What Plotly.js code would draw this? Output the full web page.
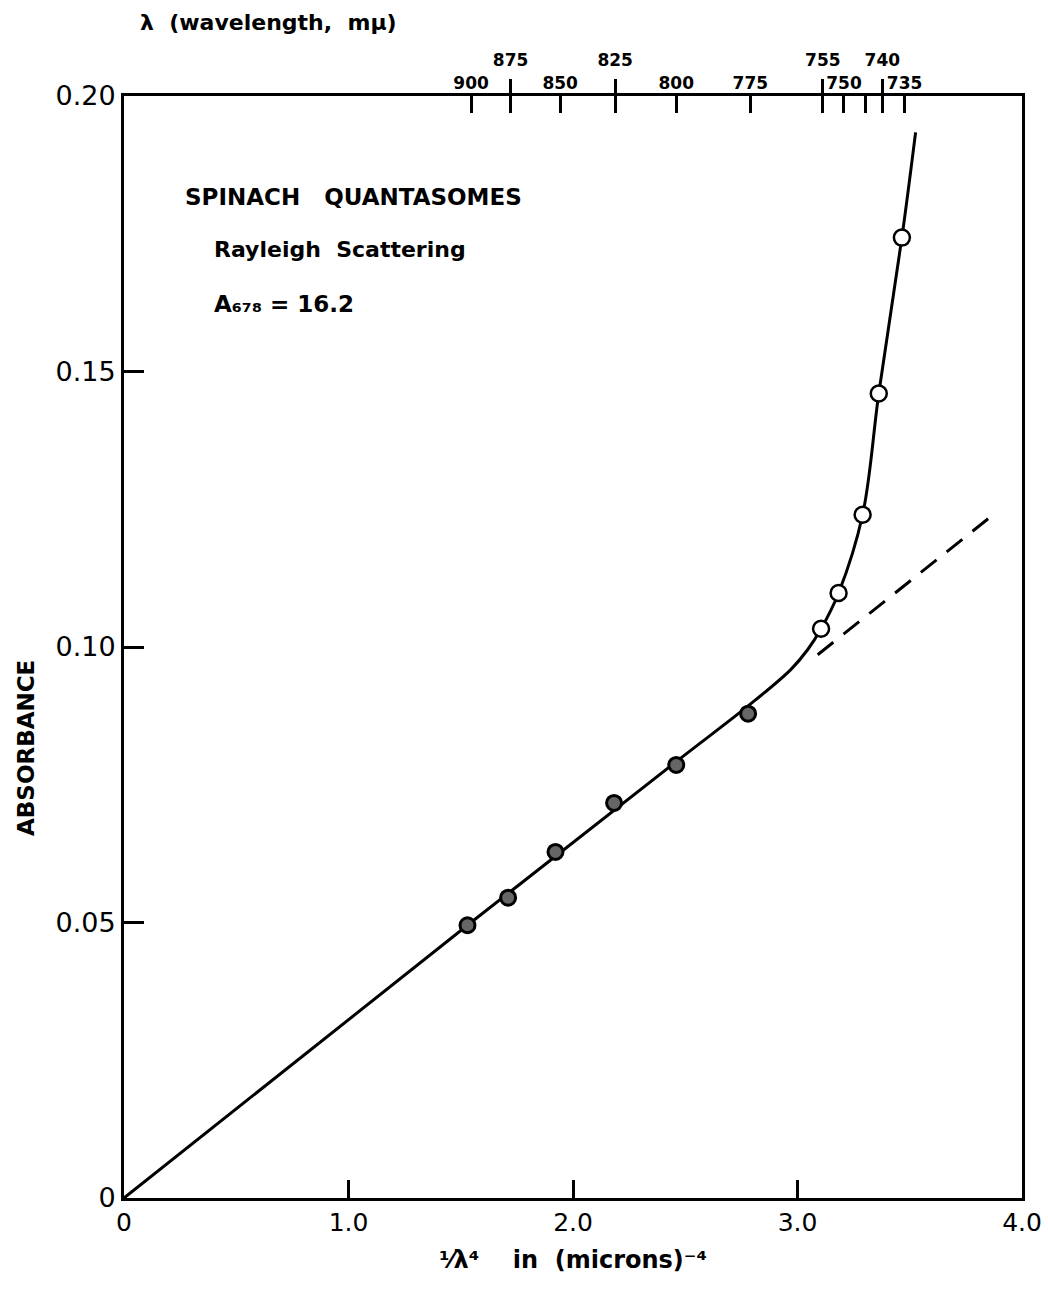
<!DOCTYPE html>
<html><head><meta charset="utf-8">
<script src="https://cdn.plot.ly/plotly-3.0.1.min.js"></script>
<style>html,body{margin:0;padding:0;background:#fff}</style>
</head><body><div id="chart" style="width:1048px;height:1309px"></div>
<script>
// measured points (1/lambda^4 in microns^-4, absorbance)
const filledX = [1.530, 1.711, 1.922, 2.183, 2.460, 2.780];
const filledY = [0.0495, 0.0545, 0.0628, 0.0717, 0.0786, 0.0879];
const openX = [3.105, 3.183, 3.290, 3.362, 3.465];
const openY = [0.1033, 0.1098, 0.1240, 0.1460, 0.1743];
// drawn smooth curve
const curveX = [0, 1.53, 2.46, 2.78, 2.97, 3.045, 3.105, 3.183, 3.290, 3.362, 3.465, 3.526];
const curveY = [0, 0.0495, 0.0792, 0.0893, 0.0959, 0.0995, 0.1033, 0.1098, 0.1240, 0.1460, 0.1743, 0.1934];
// dashed extrapolation of linear part
const dashX = [3.09, 3.856];
const dashY = [0.0986, 0.1235];
// axes
const xTickVals = [0, 1, 2, 3, 4];
const xTickText = ['0', '1.0', '2.0', '3.0', '4.0'];
const yTickVals = [0, 0.05, 0.10, 0.15, 0.20];
const yTickText = ['0', '0.05', '0.10', '0.15', '0.20'];
// top wavelength scale (m\u03bc), positions on 1/lambda^4 axis
const lowerWlPos = [1.546, 1.943, 2.460, 2.790, 3.207, 3.477];
const lowerWlText = ['900', '850', '800', '775', '750', '735'];
const upperWlPos = [1.722, 2.188, 3.113, 3.378];
const upperWlText = ['875', '825', '755', '740'];
const extraWlPos = [3.302]; // unlabelled 745 tick

const FONT = 'DejaVu Sans, Liberation Sans, sans-serif';

const traces = [
  {x: curveX, y: curveY, mode: 'lines', line: {color: '#000', width: 3, shape: 'spline', smoothing: 1}, hoverinfo: 'skip'},
  {x: dashX, y: dashY, mode: 'lines', line: {color: '#000', width: 3, dash: '20px,13px'}, hoverinfo: 'skip'},
  {x: filledX, y: filledY, mode: 'markers', marker: {size: 15, color: '#666', line: {color: '#000', width: 3}}},
  {x: openX, y: openY, mode: 'markers', marker: {size: 16, color: '#fff', line: {color: '#000', width: 2.5}}},
  {x: [], y: [], xaxis: 'x2', yaxis: 'y', mode: 'markers'},
  {x: [], y: [], xaxis: 'x3', yaxis: 'y', mode: 'markers'},
  {x: [], y: [], xaxis: 'x4', yaxis: 'y', mode: 'markers'}
];

const topTickFont = {size: 17, family: FONT, weight: 'bold'};

const layout = {
  width: 1048, height: 1309,
  paper_bgcolor: '#fff', plot_bgcolor: '#fff',
  margin: {l: 124, r: 26, t: 96, b: 111},
  showlegend: false,
  font: {family: FONT, color: '#000'},
  title: {text: '\u03bb  (wavelength,  m\u03bc)', x: 140/1048, xanchor: 'left', y: 1 - 22/1309, yanchor: 'middle',
          font: {size: 22, family: FONT, color: '#000', weight: 'bold'}},
  xaxis: {
    range: [0, 4], tickvals: xTickVals, ticktext: xTickText,
    ticks: 'inside', ticklen: 18, tickwidth: 3, tickcolor: '#000',
    showline: true, linewidth: 3, linecolor: '#000', mirror: true,
    showgrid: false, zeroline: false,
    tickfont: {size: 25, family: FONT},
    title: {text: '\u00b9\u2044\u03bb\u2074    in  (microns)\u207b\u2074',
            font: {size: 24, family: FONT, weight: 'bold'}, standoff: 16}
  },
  yaxis: {
    range: [0, 0.2], tickvals: yTickVals, ticktext: yTickText,
    ticks: 'inside', ticklen: 20, tickwidth: 3, tickcolor: '#000',
    showline: true, linewidth: 3, linecolor: '#000', mirror: true,
    showgrid: false, zeroline: false,
    tickfont: {size: 27, family: FONT}
  },
  xaxis2: {
    overlaying: 'x', side: 'top', anchor: 'y', range: [0, 4],
    tickvals: lowerWlPos, ticktext: lowerWlText,
    ticks: 'inside', ticklen: 17, tickwidth: 3, tickcolor: '#000',
    showline: false, showgrid: false, zeroline: false,
    tickfont: topTickFont, ticklabelstandoff: 3
  },
  xaxis3: {
    overlaying: 'x', side: 'top', anchor: 'y', range: [0, 4],
    tickvals: upperWlPos, ticktext: upperWlText,
    ticks: 'outside', ticklen: 16, tickwidth: 3, tickcolor: '#000',
    showline: false, showgrid: false, zeroline: false,
    tickfont: topTickFont, ticklabelstandoff: 6
  },
  xaxis4: {
    overlaying: 'x', side: 'top', anchor: 'y', range: [0, 4],
    tickvals: upperWlPos.concat(extraWlPos), showticklabels: false,
    ticks: 'inside', ticklen: 17, tickwidth: 3, tickcolor: '#000',
    showline: false, showgrid: false, zeroline: false
  },
  annotations: [
    {text: 'ABSORBANCE', textangle: -90, x: 0, y: 0, xref: 'paper', yref: 'paper', showarrow: false,
     xanchor: 'center', yanchor: 'middle', font: {size: 23, family: FONT, weight: 'bold'}},
    {text: 'SPINACH   QUANTASOMES', x: 0.263, y: 0.1816, xref: 'x', yref: 'y', xanchor: 'left', yanchor: 'middle', showarrow: false,
     font: {size: 23, family: FONT, weight: 'bold'}},
    {text: 'Rayleigh  Scattering', x: 0.392, y: 0.1722, xref: 'x', yref: 'y', xanchor: 'left', yanchor: 'middle', showarrow: false,
     font: {size: 22, family: FONT, weight: 'bold'}},
    {text: 'A\u2086\u2087\u2088 = 16.2', x: 0.392, y: 0.1622, xref: 'x', yref: 'y', xanchor: 'left', yanchor: 'middle', showarrow: false,
     font: {size: 23, family: FONT, weight: 'bold'}}
  ]
};
// place y-title annotation in paper fractions from its pixel centre
const plotW = 1048 - 124 - 26, plotH = 1309 - 96 - 111;
layout.annotations[0].x = (26 - 124) / plotW;
layout.annotations[0].y = (1198 - 748) / plotH;

Plotly.newPlot('chart', traces, layout, {staticPlot: true, displayModeBar: false});
</script>
</body></html>
